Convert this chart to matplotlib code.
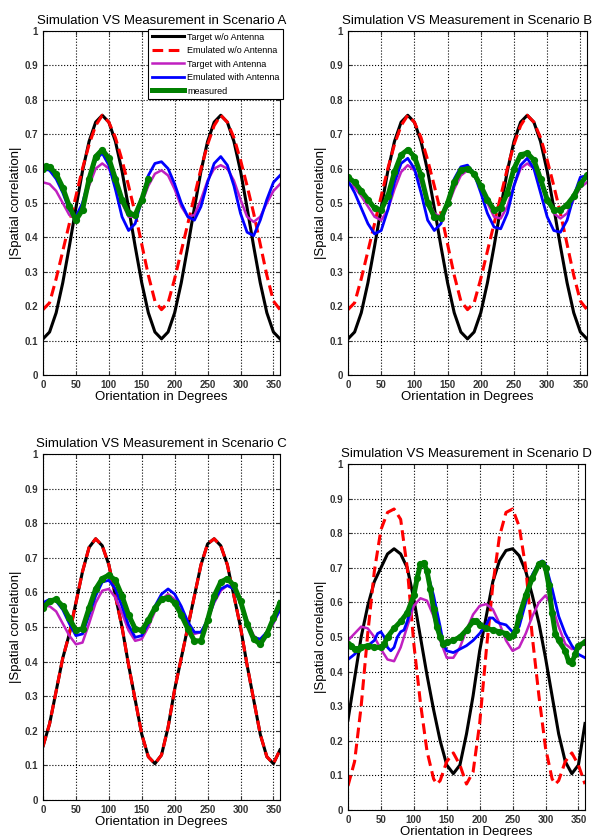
import matplotlib.pyplot as plt
import numpy as np

plt.rcParams['font.family'] = ['Liberation Sans', 'DejaVu Sans']

# Orientation grid (degrees) used by most series
ang = list(range(0, 361, 10))

# ---- Scenario A / B shared target/emulated w/o antenna ----
ab_target = [0.105, 0.125, 0.181, 0.268, 0.374, 0.486, 0.593, 0.679, 0.735, 0.755,
             0.735, 0.679, 0.593, 0.486, 0.374, 0.268, 0.181, 0.125, 0.105,
             0.125, 0.181, 0.268, 0.374, 0.486, 0.593, 0.679, 0.735, 0.755,
             0.735, 0.679, 0.593, 0.486, 0.374, 0.268, 0.181, 0.125, 0.105]
ab_emul = [0.19, 0.21, 0.28, 0.36, 0.44, 0.52, 0.60, 0.67, 0.725, 0.755,
           0.735, 0.69, 0.625, 0.55, 0.47, 0.38, 0.29, 0.215, 0.19,
           0.21, 0.28, 0.36, 0.44, 0.52, 0.60, 0.67, 0.725, 0.755,
           0.735, 0.69, 0.625, 0.55, 0.47, 0.38, 0.29, 0.215, 0.19]

a_target_ant = [0.56, 0.555, 0.535, 0.50, 0.465, 0.455, 0.49, 0.55, 0.60, 0.615,
                0.60, 0.56, 0.50, 0.46, 0.46, 0.50, 0.55, 0.585, 0.595,
                0.58, 0.54, 0.49, 0.46, 0.465, 0.51, 0.565, 0.60, 0.61,
                0.60, 0.565, 0.51, 0.46, 0.445, 0.46, 0.50, 0.535, 0.555]
a_emul_ant = [0.60, 0.595, 0.57, 0.53, 0.48, 0.46, 0.50, 0.57, 0.625, 0.645,
              0.61, 0.54, 0.46, 0.42, 0.44, 0.51, 0.58, 0.615, 0.62,
              0.60, 0.555, 0.50, 0.46, 0.45, 0.49, 0.56, 0.615, 0.635,
              0.61, 0.55, 0.47, 0.415, 0.405, 0.45, 0.51, 0.56, 0.58]
a_meas_x = [0, 5, 10, 20, 30, 40, 50, 60, 70, 80, 90, 100, 110, 120, 130, 140, 150, 160]
a_meas = [0.60, 0.607, 0.605, 0.585, 0.545, 0.49, 0.45, 0.48, 0.57, 0.635, 0.655,
          0.63, 0.57, 0.51, 0.47, 0.465, 0.51, 0.57]

b_target_ant = [0.56, 0.545, 0.52, 0.49, 0.46, 0.45, 0.48, 0.54, 0.59, 0.61,
                0.595, 0.56, 0.51, 0.47, 0.46, 0.49, 0.54, 0.58, 0.595,
                0.585, 0.55, 0.50, 0.46, 0.455, 0.49, 0.55, 0.60, 0.615,
                0.60, 0.56, 0.51, 0.47, 0.455, 0.47, 0.51, 0.545, 0.56]
b_emul_ant = [0.565, 0.53, 0.485, 0.44, 0.41, 0.42, 0.48, 0.56, 0.615, 0.63,
              0.60, 0.53, 0.45, 0.42, 0.44, 0.50, 0.57, 0.605, 0.61,
              0.585, 0.53, 0.47, 0.43, 0.425, 0.47, 0.55, 0.61, 0.63,
              0.60, 0.53, 0.46, 0.42, 0.415, 0.45, 0.52, 0.575, 0.58]
b_meas = [0.575, 0.56, 0.535, 0.51, 0.485, 0.48, 0.52, 0.59, 0.64, 0.655,
          0.635, 0.58, 0.50, 0.46, 0.455, 0.50, 0.56, 0.595, 0.60,
          0.585, 0.55, 0.51, 0.48, 0.485, 0.53, 0.60, 0.64, 0.645,
          0.625, 0.57, 0.51, 0.48, 0.48, 0.495, 0.52, 0.555, 0.58]

# ---- Scenario C ----
c_target = [0.155, 0.22, 0.315, 0.41, 0.48, 0.57, 0.66, 0.73, 0.755, 0.735,
            0.68, 0.59, 0.50, 0.39, 0.29, 0.19, 0.125, 0.105, 0.13,
            0.21, 0.32, 0.41, 0.50, 0.59, 0.68, 0.74, 0.755, 0.735,
            0.68, 0.59, 0.50, 0.39, 0.29, 0.19, 0.125, 0.105, 0.145]
c_emul = c_target
c_target_ant = [0.56, 0.56, 0.545, 0.51, 0.475, 0.45, 0.455, 0.51, 0.57, 0.605,
                0.61, 0.585, 0.54, 0.49, 0.46, 0.465, 0.50, 0.545, 0.58,
                0.595, 0.58, 0.545, 0.505, 0.48, 0.485, 0.52, 0.57, 0.605,
                0.62, 0.61, 0.575, 0.52, 0.475, 0.46, 0.48, 0.51, 0.55]
c_emul_ant = [0.57, 0.58, 0.575, 0.55, 0.51, 0.475, 0.48, 0.535, 0.59, 0.63,
              0.635, 0.61, 0.56, 0.505, 0.47, 0.475, 0.51, 0.56, 0.595,
              0.61, 0.595, 0.56, 0.515, 0.485, 0.485, 0.52, 0.575, 0.61,
              0.62, 0.61, 0.57, 0.51, 0.47, 0.465, 0.485, 0.515, 0.55]
c_meas = [0.555, 0.575, 0.58, 0.56, 0.525, 0.49, 0.495, 0.555, 0.61, 0.64,
          0.65, 0.635, 0.59, 0.535, 0.495, 0.49, 0.52, 0.555, 0.58,
          0.585, 0.57, 0.535, 0.495, 0.46, 0.46, 0.52, 0.59, 0.63,
          0.64, 0.62, 0.575, 0.51, 0.465, 0.45, 0.48, 0.525, 0.57]

# ---- Scenario D ----
d_target = [0.26, 0.38, 0.50, 0.59, 0.66, 0.70, 0.74, 0.755, 0.74, 0.70,
            0.61, 0.50, 0.39, 0.29, 0.20, 0.13, 0.105, 0.13, 0.22,
            0.33, 0.46, 0.56, 0.66, 0.72, 0.75, 0.755, 0.735, 0.69,
            0.62, 0.54, 0.44, 0.33, 0.22, 0.14, 0.105, 0.13, 0.25]
d_emul_x = [0, 10, 20, 30, 40, 50, 60, 70, 80, 90, 100, 110, 120, 130, 135, 140, 150,
            160, 170, 180, 190, 200, 210, 220, 230, 240, 250, 260, 270, 280, 290, 300,
            310, 315, 320, 330, 340, 350, 360]
d_emul = [0.07, 0.14, 0.30, 0.51, 0.69, 0.81, 0.86, 0.87, 0.84, 0.70, 0.48, 0.31,
          0.17, 0.09, 0.075, 0.085, 0.14, 0.165, 0.13, 0.075, 0.11, 0.25, 0.46, 0.65,
          0.79, 0.86, 0.87, 0.82, 0.70, 0.50, 0.33, 0.18, 0.09, 0.075, 0.085, 0.14,
          0.165, 0.13, 0.075]
d_target_ant = [0.49, 0.51, 0.53, 0.525, 0.50, 0.465, 0.435, 0.43, 0.47, 0.53,
                0.59, 0.612, 0.605, 0.56, 0.49, 0.44, 0.44, 0.47, 0.52,
                0.565, 0.59, 0.595, 0.58, 0.54, 0.49, 0.46, 0.47, 0.51,
                0.56, 0.60, 0.62, 0.59, 0.53, 0.48, 0.465, 0.47, 0.48]
d_emul_ant_x = [0, 10, 20, 30, 40, 45, 50, 55, 60, 65, 70, 75, 80, 85, 90, 95, 100, 105,
                110, 115, 120, 130, 140, 145, 150, 160, 170, 180, 190, 200, 210, 215,
                220, 225, 230, 240, 250, 260, 270, 280, 290, 295, 300, 310, 320, 330,
                340, 350, 360]
d_emul_ant = [0.435, 0.45, 0.47, 0.475, 0.49, 0.51, 0.515, 0.50, 0.47, 0.46, 0.47, 0.50,
              0.515, 0.52, 0.545, 0.58, 0.63, 0.68, 0.705, 0.71, 0.69, 0.62, 0.53, 0.48,
              0.46, 0.455, 0.465, 0.475, 0.49, 0.51, 0.535, 0.555, 0.555, 0.545, 0.54,
              0.535, 0.515, 0.53, 0.60, 0.68, 0.715, 0.72, 0.71, 0.64, 0.56, 0.51,
              0.475, 0.45, 0.44]
d_meas_x = [0, 5, 10, 15, 20, 30, 40, 50, 55, 60, 70, 80, 90, 100, 105, 110, 115, 120,
            125, 130, 135, 140, 145, 150, 160, 170, 180, 190, 195, 200, 210, 220, 230,
            240, 245, 250, 255, 260, 270, 280, 290, 295, 300, 305, 310, 315, 320, 330,
            335, 340, 345, 350, 360]
d_meas = [0.48, 0.475, 0.465, 0.465, 0.47, 0.475, 0.47, 0.47, 0.48, 0.50, 0.525, 0.545,
          0.57, 0.62, 0.67, 0.71, 0.715, 0.69, 0.64, 0.58, 0.53, 0.50, 0.48, 0.485, 0.49,
          0.50, 0.52, 0.545, 0.545, 0.535, 0.525, 0.52, 0.515, 0.51, 0.50, 0.505, 0.52,
          0.56, 0.62, 0.67, 0.71, 0.715, 0.70, 0.65, 0.57, 0.51, 0.49, 0.46, 0.43, 0.425,
          0.45, 0.475, 0.485]

labels = ['Target w/o Antenna', 'Emulated w/o Antenna', 'Target with Antenna',
          'Emulated with Antenna', 'measured']
titles = ['Simulation VS Measurement in Scenario A', 'Simulation VS Measurement in Scenario B',
          'Simulation VS Measurement in Scenario C', 'Simulation VS Measurement in Scenario D']

W, H = 595, 836
fig = plt.figure(figsize=(W / 100, H / 100), dpi=100)


def make_ax(left, right, top, bottom):
    return fig.add_axes([left / W, (H - bottom) / H, (right - left) / W, (bottom - top) / H])


def draw(ax, title, tgt, emu, tgt_ant, emu_ant, meas):
    h1, = ax.plot(tgt[0], tgt[1], color='black', lw=2.2)
    h2, = ax.plot(emu[0], emu[1], color='red', lw=2.2, ls='--', dashes=(3.5, 1.8))
    h3, = ax.plot(tgt_ant[0], tgt_ant[1], color='#c020c0', lw=1.8)
    h4, = ax.plot(emu_ant[0], emu_ant[1], color='blue', lw=2.0)
    h5, = ax.plot(meas[0], meas[1], color='#008000', lw=3.6, marker='o', ms=4.2)
    ax.set_xlim(0, 360)
    ax.set_ylim(0, 1)
    ax.set_xticks(range(0, 360, 50))
    ax.set_yticks(np.arange(0, 1.01, 0.1))
    ax.set_yticklabels(['0', '0.1', '0.2', '0.3', '0.4', '0.5', '0.6', '0.7', '0.8', '0.9', '1'])
    ax.grid(True, color='black', ls=':', lw=0.8)
    ax.tick_params(direction='in', labelsize=7, colors='#333333', length=3,
                   top=True, right=True)
    for t in ax.get_xticklabels() + ax.get_yticklabels():
        t.set_fontweight('bold')
    for s in ax.spines.values():
        s.set_linewidth(0.8)
    ax.set_title(title, fontsize=9.5, pad=5)
    ax.set_xlabel('Orientation in Degrees', fontsize=9.5, labelpad=1)
    ax.set_ylabel('|Spatial correlation|', fontsize=9.5, labelpad=2)
    return [h1, h2, h3, h4, h5]


axA = make_ax(43, 280, 31, 375)
hs = draw(axA, titles[0], (ang, ab_target), (ang, ab_emul), (ang, a_target_ant),
          (ang, a_emul_ant), (a_meas_x, a_meas))
leg = axA.legend(hs, labels, loc='upper left', bbox_to_anchor=(0.443, 1.006), fontsize=6.5,
                 frameon=True, fancybox=False, edgecolor='black', framealpha=1,
                 handlelength=3.6, handletextpad=0.35, borderpad=0.4, labelspacing=0.5,
                 borderaxespad=0, markerscale=0.6)
leg.get_frame().set_linewidth(0.8)

axB = make_ax(348, 587, 31, 375)
draw(axB, titles[1], (ang, ab_target), (ang, ab_emul), (ang, b_target_ant),
     (ang, b_emul_ant), (ang, b_meas))

axC = make_ax(43, 280, 454, 800)
draw(axC, titles[2], (ang, c_target), (ang, c_emul), (ang, c_target_ant),
     (ang, c_emul_ant), (ang, c_meas))

axD = make_ax(348, 585, 464, 810)
draw(axD, titles[3], (ang, d_target), (d_emul_x, d_emul), (ang, d_target_ant),
     (d_emul_ant_x, d_emul_ant), (d_meas_x, d_meas))

fig.savefig('out.png', dpi=100)
